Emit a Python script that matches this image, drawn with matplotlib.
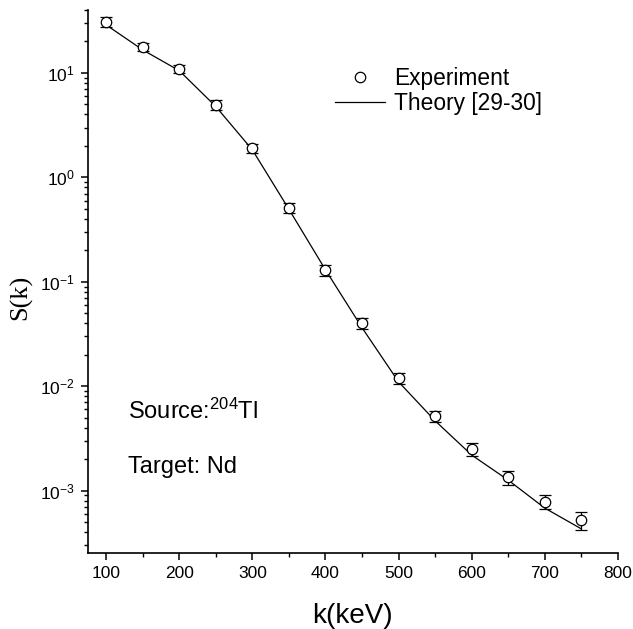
import matplotlib.pyplot as plt
from matplotlib.lines import Line2D
from matplotlib.ticker import LogLocator, MultipleLocator, NullFormatter

plt.rcParams['font.family'] = ['Liberation Sans', 'DejaVu Sans']
plt.rcParams['mathtext.fontset'] = 'custom'
plt.rcParams['mathtext.rm'] = 'Liberation Sans'
plt.rcParams['mathtext.it'] = 'Liberation Sans:italic'

# photon energy k (keV)
k = [100, 150, 200, 250, 300, 350, 400, 450, 500, 550, 600, 650, 700, 750]
# experiment S(k) and errors
s_exp = [31.0, 17.7, 10.9, 4.95, 1.91, 0.513, 0.130, 0.0403, 0.0119,
         0.00516, 0.00248, 0.00134, 0.00078, 0.000517]
s_err = [3.4, 1.6, 1.0, 0.5, 0.19, 0.056, 0.016, 0.0048, 0.0015,
         0.00067, 0.00035, 0.0002, 0.00012, 0.0001]
# theory [29-30]
s_th = [28.8, 16.6, 10.5, 4.76, 1.83, 0.494, 0.130, 0.0363, 0.0110,
        0.00466, 0.00219, 0.00126, 0.00068, 0.00043]

fig = plt.figure(figsize=(6.33, 6.29), dpi=100)
ax = fig.add_axes([0.139, 0.121, 0.837, 0.863])

ax.plot(k, s_th, color='black', lw=0.9)
ax.errorbar(k, s_exp, yerr=s_err, fmt='o', mfc='white', mec='black', mew=0.9,
            ms=7.5, ecolor='black', elinewidth=0.9, capsize=4.5, capthick=0.9)

ax.set_yscale('log')
ax.set_xlim(75, 800)
ax.set_ylim(2.53e-4, 40)

ax.spines['top'].set_visible(False)
ax.spines['right'].set_visible(False)
ax.spines['left'].set_linewidth(1.2)
ax.spines['bottom'].set_linewidth(1.2)

ax.xaxis.set_major_locator(MultipleLocator(100))
ax.xaxis.set_minor_locator(MultipleLocator(50))
ax.yaxis.set_major_locator(LogLocator(base=10, numticks=10))
ax.yaxis.set_minor_locator(LogLocator(base=10, subs=range(2, 10), numticks=10))
ax.yaxis.set_minor_formatter(NullFormatter())
ax.tick_params(which='major', direction='out', length=5, width=1.1, labelsize=12.5, pad=4.5)
ax.tick_params(which='minor', direction='out', length=3, width=1.0)

ax.set_xlabel('k(keV)', fontsize=20)
ax.set_ylabel('S(k)', fontsize=19, family=['Liberation Serif'])
ax.xaxis.set_label_coords(0.5, -0.093)
ax.yaxis.set_label_coords(-0.105, 0.47)

ax.text(0.075, 0.26, 'Source:$^{204}$Tl', transform=ax.transAxes, fontsize=17, va='center')
ax.text(0.075, 0.158, 'Target: Nd', transform=ax.transAxes, fontsize=17, va='center')

handles = [Line2D([], [], ls='none', marker='o', mfc='white', mec='black', mew=0.9, ms=7.5),
           Line2D([], [], color='black', lw=0.9)]
ax.legend(handles, ['Experiment', 'Theory [29-30]'], loc='upper left',
          bbox_to_anchor=(0.466, 0.895), frameon=False, fontsize=16.4,
          labelspacing=0.1, handlelength=2.2, handletextpad=0.4,
          borderpad=0, borderaxespad=0)

fig.savefig('out.png', dpi=100)
